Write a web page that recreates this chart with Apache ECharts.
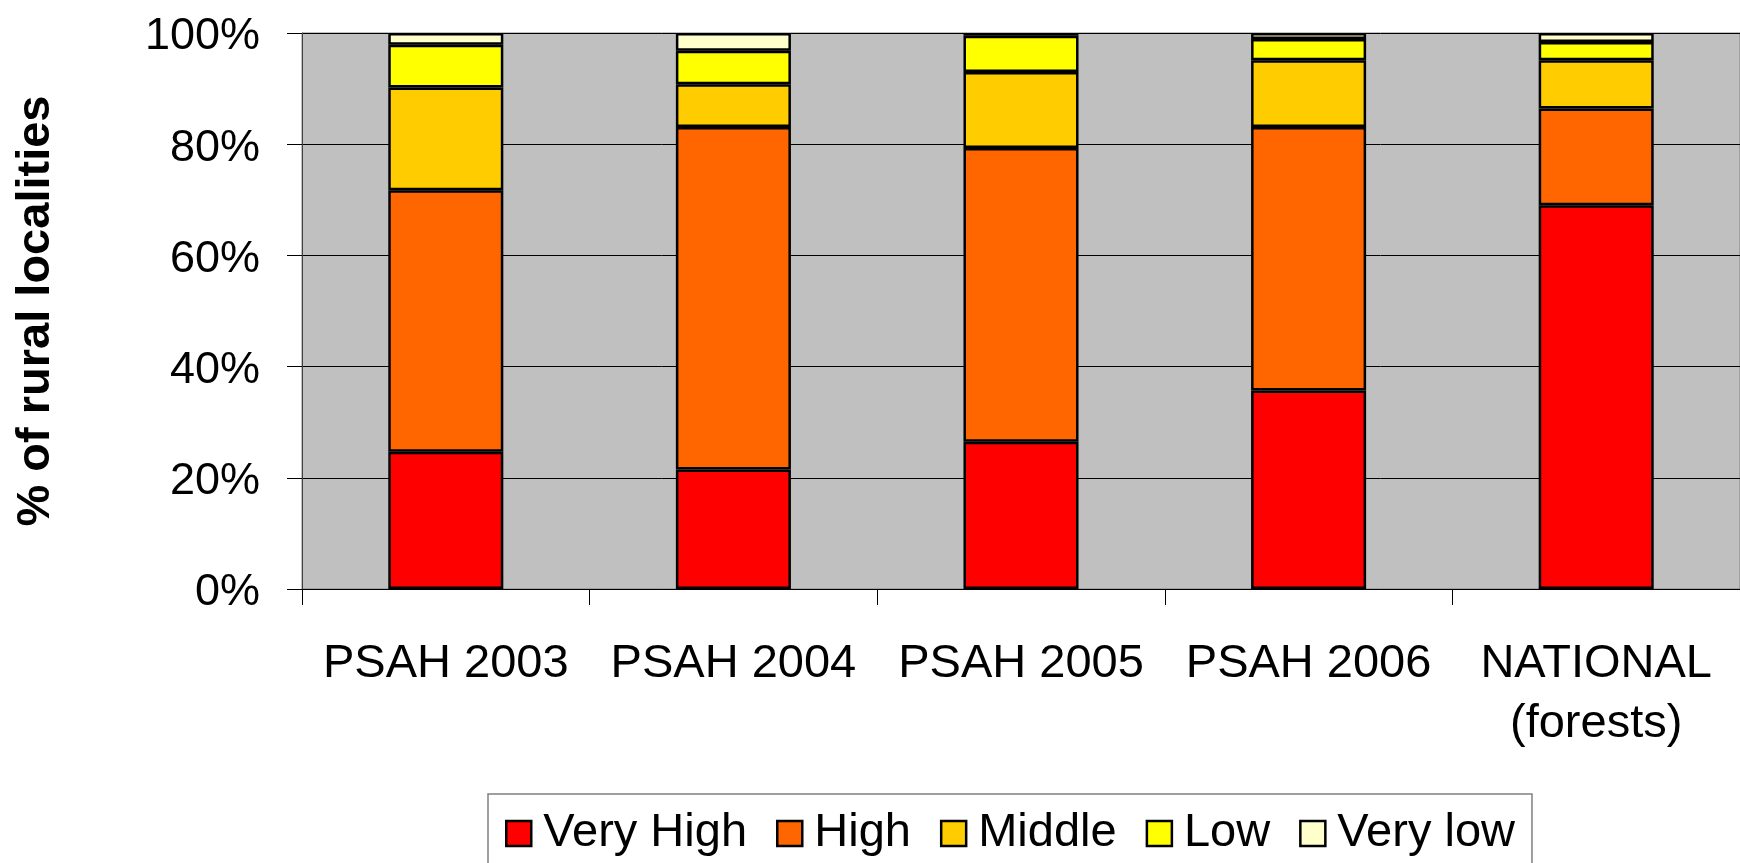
<!DOCTYPE html>
<html><head><meta charset="utf-8">
<script src="https://cdn.jsdelivr.net/npm/echarts@6/dist/echarts.min.js"></script>
<style>html,body{margin:0;padding:0;background:#fff}#c{width:1740px;height:863px}</style>
</head><body><div id="c"></div>
<script>
const categories = ['PSAH 2003','PSAH 2004','PSAH 2005','PSAH 2006','NATIONAL\n(forests)'];
const seriesNames = ['Very High','High','Middle','Low','Very low'];
const veryHigh = [24.7, 21.5, 26.5, 35.7, 69.0];
const high     = [47.0, 61.6, 52.8, 47.4, 17.4];
const middle   = [18.5,  7.7, 13.7, 12.0,  8.7];
const low      = [ 7.7,  6.0,  6.5,  3.8,  3.3];
const veryLow  = [ 2.1,  3.2,  0.5,  1.1,  1.6];
const yAxisTitle = '% of rural localities';

const colors = ['#FF0000','#FF6600','#FFCC00','#FFFF00','#FFFFCC'];
const values = [veryHigh, high, middle, low, veryLow];
const FONT = '"Liberation Sans", Arial, sans-serif';

const chart = echarts.init(document.getElementById('c'), null, {renderer:'canvas'});
chart.setOption({
  animation: false,
  backgroundColor: '#fff',
  grid: {left: 302, right: 0, top: 33, bottom: 274, show: true,
         backgroundColor: '#C0C0C0', borderColor: '#808080', borderWidth: 1},
  legend: {
    left: 488, top: 794, orient: 'horizontal',
    padding: [16, 17, 30, 17],
    backgroundColor: '#fff', borderColor: '#808080', borderWidth: 1.5,
    itemWidth: 25, itemHeight: 25, itemGap: 29, icon: 'rect',
    itemStyle: {borderColor: '#000', borderWidth: 2.5},
    textStyle: {fontFamily: FONT, fontSize: 47, color: '#000', padding: [0,0,0,7]},
    data: seriesNames
  },
  xAxis: {
    type: 'category', data: categories,
    axisLine: {show: true, lineStyle: {color: '#000', width: 1}},
    axisTick: {show: true, length: 16, lineStyle: {color: '#000'}},
    axisLabel: {fontFamily: FONT, fontSize: 47, color: '#000', margin: 45, lineHeight: 60, interval: 0},
    splitLine: {show: false}
  },
  yAxis: {
    type: 'value', min: 0, max: 100, interval: 20,
    name: yAxisTitle, nameLocation: 'middle', nameGap: 242, nameRotate: 90,
    nameTextStyle: {fontFamily: FONT, fontSize: 47, fontWeight: 'bold', color: '#000'},
    axisLine: {show: true, lineStyle: {color: '#404040', width: 1}},
    axisTick: {show: true, length: 15, lineStyle: {color: '#000'}},
    axisLabel: {margin: 42, formatter: '{a|{value}%}',
      rich: {a: {fontFamily: FONT, fontSize: 45, color: '#000', padding: [8,0,0,0]}}},
    splitLine: {show: true, lineStyle: {color: '#000', width: 1}}
  },
  series: seriesNames.map((n, i) => ({
    name: n, type: 'bar', stack: 'total', barWidth: '40%',
    data: values[i],
    itemStyle: {color: colors[i], borderColor: '#000', borderWidth: 2.5}
  }))
});
</script></body></html>
